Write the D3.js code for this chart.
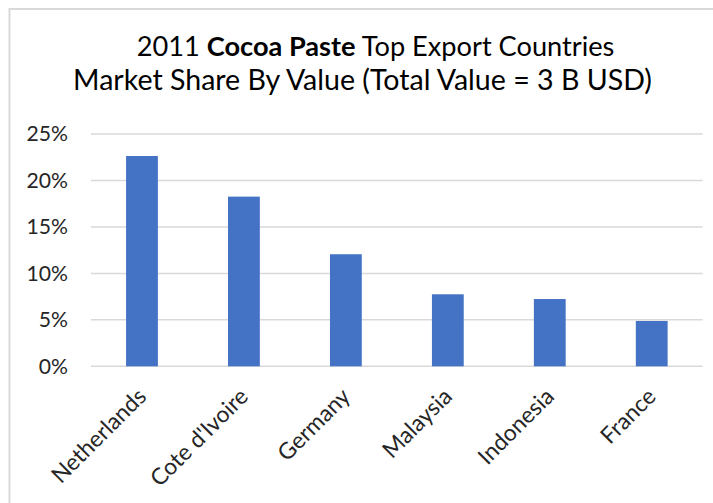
<!DOCTYPE html>
<html>
<head>
<meta charset="utf-8">
<script src="https://cdn.jsdelivr.net/npm/d3@7"></script>
<style>
  html, body { margin: 0; padding: 0; background: #fff; }
  svg { display: block; font-family: Lato, "Open Sans", sans-serif; }
</style>
</head>
<body>
<svg id="chart" width="713" height="503"></svg>
<script>
// Export market share of cocoa paste, 2011 (percent of total value)
const countries = ["Netherlands", "Cote d'Ivoire", "Germany", "Malaysia", "Indonesia", "France"];
const shares = [22.63, 18.26, 12.06, 7.75, 7.24, 4.88];
const yTicks = [0, 5, 10, 15, 20, 25];
const titleLine1 = [
  { text: "2011 ", bold: false },
  { text: "Cocoa Paste", bold: true },
  { text: " Top Export Countries", bold: false }
];
const titleLine2 = "Market Share By Value (Total Value = 3 B USD)";

const svg = d3.select("#chart");
const W = 713, H = 503;
const textColor = "#262626";
const gridColor = "#d9d9d9";
const barColor = "#4472C4";

// Chart frame
svg.append("rect")
  .attr("x", 9.5).attr("y", 9)
  .attr("width", W + 20).attr("height", H + 20)
  .attr("fill", "#fff")
  .attr("stroke", gridColor)
  .attr("stroke-width", 2);

// Scale a text node's font size so its rendered width hits a target
function fitWidth(node, target) {
  const sz = parseFloat(node.getAttribute("font-size"));
  const len = node.getComputedTextLength();
  const ns = sz * target / len;
  node.setAttribute("font-size", ns);
  return ns;
}

// Title
const t2 = svg.append("text")
  .attr("x", 362.5).attr("y", 90)
  .attr("text-anchor", "middle")
  .attr("font-size", 24)
  .attr("fill", "#000")
  .text(titleLine2);
fitWidth(t2.node(), 579);

const t1 = svg.append("text")
  .attr("x", 375.5).attr("y", 56)
  .attr("text-anchor", "middle")
  .attr("font-size", 24)
  .attr("fill", "#000");
t1.selectAll("tspan").data(titleLine1).join("tspan")
  .attr("font-weight", d => d.bold ? 700 : 400)
  .text(d => d.text);
fitWidth(t1.node(), 478);

// Scales
const x = d3.scaleBand()
  .domain(countries)
  .range([91, 702.7])
  .paddingInner(0.688)
  .paddingOuter(0.344);

const y = d3.scaleLinear()
  .domain([0, 25])
  .range([366.3, 134]);

// Gridlines
svg.append("g")
  .selectAll("line")
  .data(yTicks)
  .join("line")
  .attr("x1", 91).attr("x2", 702.7)
  .attr("y1", d => y(d)).attr("y2", d => y(d))
  .attr("stroke", gridColor)
  .attr("stroke-width", 1.5);

// Bars
svg.append("g")
  .selectAll("rect")
  .data(countries.map((c, i) => ({ c, v: shares[i] })))
  .join("rect")
  .attr("x", d => x(d.c))
  .attr("width", x.bandwidth())
  .attr("y", d => y(d.v))
  .attr("height", d => y(0) - y(d.v))
  .attr("fill", barColor);

// Y axis labels
const yAxis = svg.append("g")
  .attr("transform", "translate(68,0)")
  .call(d3.axisLeft(y).tickValues(yTicks).tickFormat(d => d + "%").tickSize(0).tickPadding(0));
yAxis.select(".domain").remove();
yAxis.selectAll("text")
  .attr("font-family", "Lato, 'Open Sans', sans-serif")
  .attr("fill", textColor)
  .attr("font-size", 20);
const probe = yAxis.selectAll("text").filter(d => d === 20).node();
const tickSize = fitWidth(probe, 41.5);
yAxis.selectAll("text").attr("font-size", tickSize);

// X axis labels, rotated
const xAxis = svg.append("g")
  .attr("transform", `translate(0,${y(0)})`)
  .call(d3.axisBottom(x).tickSize(0).tickPadding(0));
xAxis.select(".domain").remove();
xAxis.selectAll(".tick text")
  .attr("font-family", "Lato, 'Open Sans', sans-serif")
  .attr("font-size", tickSize * 1.08)
  .attr("fill", textColor)
  .attr("text-anchor", "end")
  .attr("dy", "0.35em")
  .attr("transform", "translate(0,26) rotate(-45)");
</script>
</body>
</html>
